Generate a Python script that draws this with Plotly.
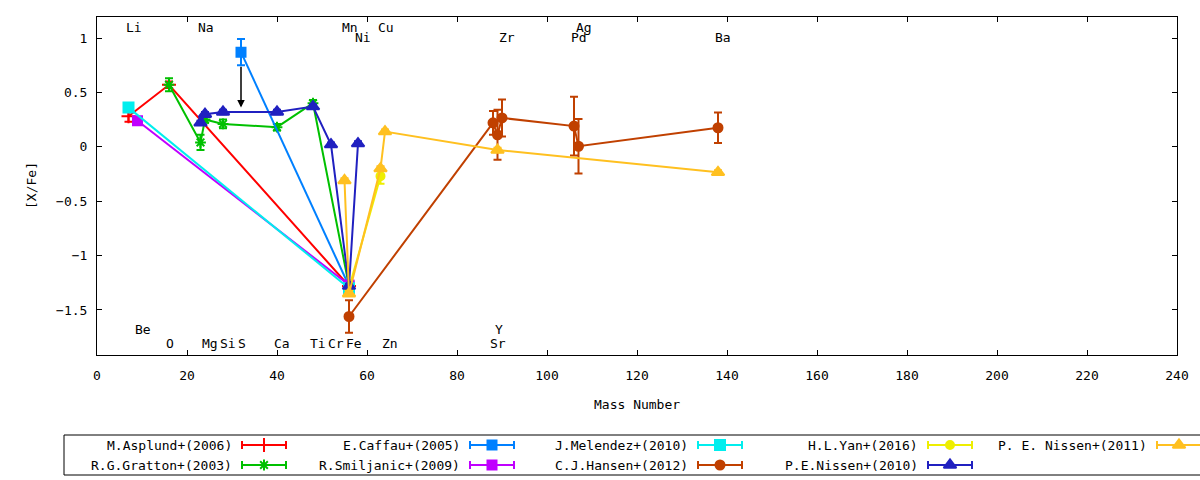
import plotly.graph_objects as go

FONT = "DejaVu Sans Mono"

# --- datos: numero masico, [X/Fe], error ---
asplund_x = [7, 16, 56]
asplund_y = [0.28, 0.57, -1.28]
asplund_e = [0.05, 0.03, 0.02]

gratton_x = [16, 23, 24, 28, 40, 48, 56]
gratton_y = [0.57, 0.04, 0.25, 0.21, 0.18, 0.40, -1.28]
gratton_e = [0.06, 0.07, 0.03, 0.04, 0.03, 0.03, 0.02]

caffau_x = [32, 56]
caffau_y = [0.87, -1.28]
caffau_e = [0.12, 0.02]
caffau_limit = 0.36   # flecha de limite superior en S

smiljanic_x = [9, 56]
smiljanic_y = [0.24, -1.27]
smiljanic_e = [0.03, 0.02]

melendez_x = [7, 56]
melendez_y = [0.36, -1.30]
melendez_e = [0.04, 0.02]

hansen_x = [56, 88, 89, 90, 106, 107, 138]
hansen_y = [-1.56, 0.22, 0.11, 0.265, 0.19, 0.005, 0.175]
hansen_e = [0.15, 0.11, 0.23, 0.17, 0.27, 0.25, 0.14]

yan_x = [56, 63]
yan_y = [-1.30, -0.27]
yan_e = [0.02, 0.07]

nissen10_x = [23, 24, 28, 40, 48, 52, 56, 58]
nissen10_y = [0.22, 0.30, 0.32, 0.32, 0.37, 0.02, -1.28, 0.03]
nissen10_e = [0.02, 0.02, 0.02, 0.02, 0.02, 0.02, 0.02, 0.02]

nissen11_x = [55, 56, 63, 64, 89, 138]
nissen11_y = [-0.31, -1.35, -0.20, 0.14, -0.03, -0.235]
nissen11_e = [0.02, 0.02, 0.02, 0.02, 0.02, 0.02]

# etiquetas de elementos
elem_names = ["Li", "Na", "Mn", "Ni", "Cu", "Zr", "Pd", "Ag", "Ba",
              "Be", "O", "Mg", "Si", "S", "Ca", "Ti", "Cr", "Fe", "Zn", "Y", "Sr"]
elem_mass = [7, 23, 55, 58, 63, 90, 106, 107, 138,
             9, 16, 24, 28, 32, 40, 48, 52, 56, 64, 89, 88]
elem_y = [1.1, 1.1, 1.1, 1.0, 1.1, 1.0, 1.0, 1.1, 1.0,
          -1.68, -1.81, -1.81, -1.81, -1.81, -1.81, -1.81, -1.81, -1.81, -1.81, -1.68, -1.81]

series = [
    ("M.Asplund+(2006)", asplund_x, asplund_y, asplund_e, "#ff0000", "cross-thin", 10),
    ("R.G.Gratton+(2003)", gratton_x, gratton_y, gratton_e, "#00c000", "asterisk", 9),
    ("E.Caffau+(2005)", caffau_x, caffau_y, caffau_e, "#0080ff", "square", 9),
    ("R.Smiljanic+(2009)", smiljanic_x, smiljanic_y, smiljanic_e, "#c000ff", "square", 9),
    ("J.Melendez+(2010)", melendez_x, melendez_y, melendez_e, "#00eeee", "square", 10),
    ("C.J.Hansen+(2012)", hansen_x, hansen_y, hansen_e, "#c04000", "circle", 9),
    ("H.L.Yan+(2016)", yan_x, yan_y, yan_e, "#eeee00", "circle", 8),
    ("P.E.Nissen+(2010)", nissen10_x, nissen10_y, nissen10_e, "#2020c0", "triangle-up", 11),
    ("P. E. Nissen+(2011)", nissen11_x, nissen11_y, nissen11_e, "#ffc020", "triangle-up", 11),
]

fig = go.Figure()

for name, xs, ys, es, col, sym, sz in series:
    fig.add_trace(go.Scatter(
        x=xs, y=ys, mode="lines+markers", name=name, showlegend=False,
        line=dict(color=col, width=2),
        marker=dict(symbol=sym, size=sz, color=col, line=dict(color=col, width=2)),
        error_y=dict(type="data", array=es, color=col, thickness=2, width=4),
    ))

# flecha limite superior (Caffau, S)
fig.add_annotation(x=caffau_x[0], y=caffau_limit, ax=caffau_x[0], ay=caffau_y[0] - caffau_e[0],
                   xref="x", yref="y", axref="x", ayref="y", text="", showarrow=True,
                   arrowhead=2, arrowsize=1, arrowwidth=1.5, arrowcolor="black")

for n, m, yy in zip(elem_names, elem_mass, elem_y):
    fig.add_annotation(x=m, y=yy, text=n, showarrow=False, xanchor="left", yanchor="middle",
                       xshift=-5, font=dict(family=FONT, size=13, color="black"))

# --- leyenda manual (eje auxiliar en pixeles) ---
col_right = [234, 462, 690, 920, 1149]
row_y = [445, 465]
for i, (name, xs, ys, es, col, sym, sz) in enumerate(series):
    c, r = divmod(i, 2)
    xr = col_right[c]
    yy = row_y[r]
    fig.add_annotation(x=xr, y=yy, xref="x2", yref="y2", text=name, showarrow=False,
                       xanchor="right", yanchor="middle",
                       font=dict(family=FONT, size=13, color="black"))
    x0, x1 = xr + 8, xr + 52
    fig.add_trace(go.Scatter(
        x=[x0, x1], y=[yy, yy], xaxis="x2", yaxis="y2", mode="lines", showlegend=False,
        line=dict(color=col, width=2),
        error_y=dict(type="data", array=[4, 4], color=col, thickness=2, width=0),
    ))
    fig.add_trace(go.Scatter(
        x=[(x0 + x1) / 2], y=[yy], xaxis="x2", yaxis="y2", mode="markers", showlegend=False,
        marker=dict(symbol=sym, size=sz, color=col, line=dict(color=col, width=2)),
    ))

for xa, ya, xb, yb in [(64, 435, 1200, 435), (64, 475, 1200, 475), (64, 435, 64, 475)]:
    fig.add_shape(type="line", xref="x2", yref="y2", x0=xa, y0=ya, x1=xb, y1=yb,
                  line=dict(color="black", width=1))

# titulos de ejes
fig.add_annotation(x=637, y=404, xref="x2", yref="y2", text="Mass Number", showarrow=False,
                   font=dict(family=FONT, size=13, color="black"))
fig.add_annotation(x=31, y=186, xref="x2", yref="y2", text="[X/Fe]", showarrow=False,
                   textangle=-90, font=dict(family=FONT, size=13, color="black"))

W, H = 1200, 480
fig.update_layout(
    width=W, height=H,
    margin=dict(l=0, r=0, t=0, b=0),
    paper_bgcolor="white", plot_bgcolor="rgba(0,0,0,0)",
    showlegend=False,
    font=dict(family=FONT, size=13, color="black"),
    xaxis=dict(domain=[97 / W, 1177 / W], range=[0, 240], dtick=20, tick0=0,
               ticks="inside", ticklen=5, tickcolor="black", showline=True, linecolor="black",
               linewidth=1, mirror="ticks", showgrid=False, zeroline=False,
               ticklabelstandoff=8, automargin=False,
               tickfont=dict(family=FONT, size=13, color="black")),
    yaxis=dict(domain=[1 - 355 / H, 1 - 17 / H], range=[-1.914, 1.193], dtick=0.5, tick0=0,
               ticks="inside", ticklen=5, tickcolor="black", showline=True, linecolor="black",
               linewidth=1, mirror="ticks", showgrid=False, zeroline=False,
               ticklabelstandoff=6, automargin=False,
               tickfont=dict(family=FONT, size=13, color="black")),
    xaxis2=dict(domain=[0, 1], range=[0, W], visible=False, anchor="y2"),
    yaxis2=dict(domain=[0, 1], range=[H, 0], visible=False, anchor="x2"),
)

# quitar el margen por defecto del <body> para que la figura empiece en (0, 0)
fig.write_html("out.html", config={"displayModeBar": False},
               post_script="document.body.style.margin='0';")
